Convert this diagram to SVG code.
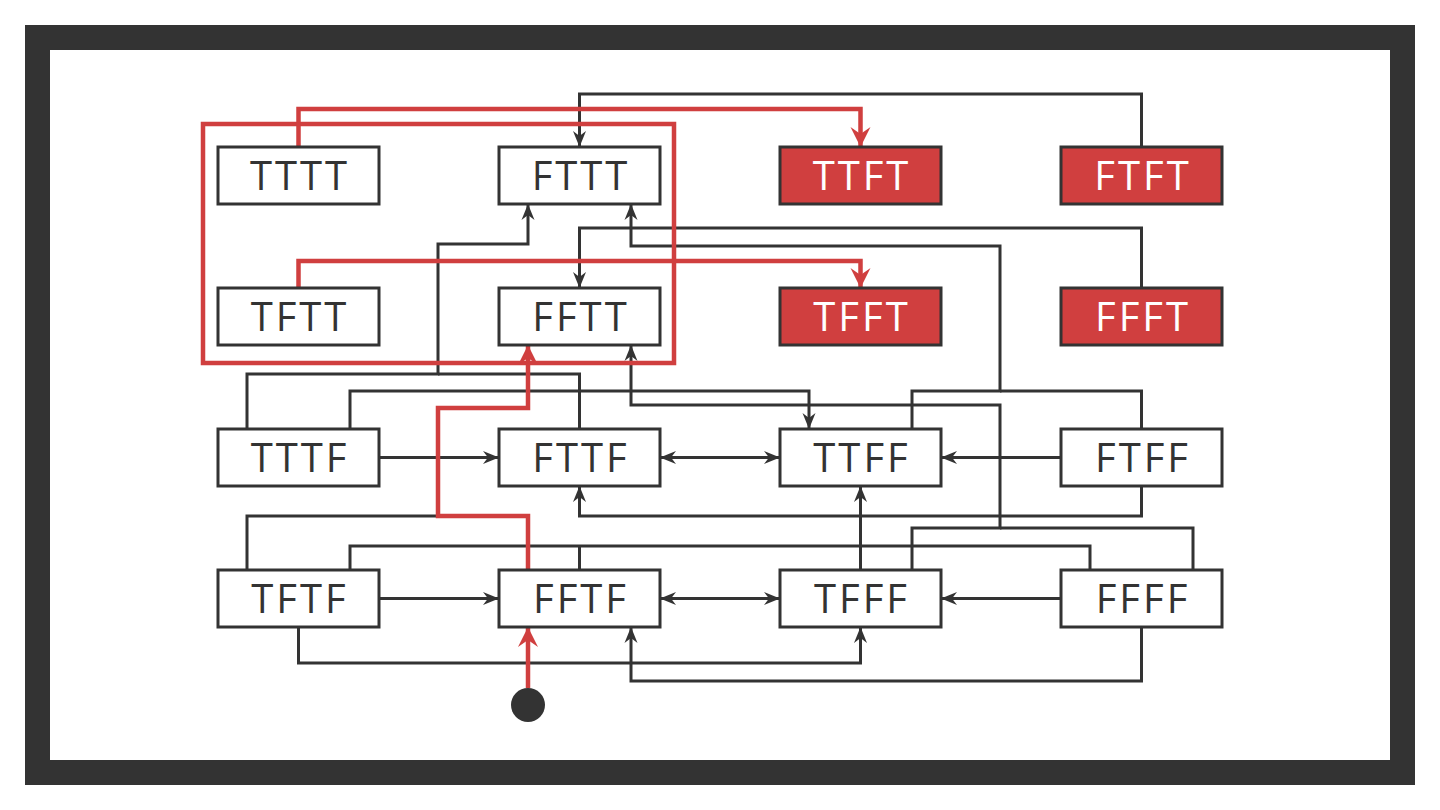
<svg xmlns="http://www.w3.org/2000/svg" width="1440" height="810" viewBox="0 0 1440 810">
<style>
.frame{fill:#333333}
.node rect{fill:#ffffff;stroke:#333333;stroke-width:3}
.node.red rect{fill:#d03f3f}
.node text{font-family:"Open Sans","Liberation Sans",sans-serif;font-size:40px;fill:#333333;text-anchor:middle;letter-spacing:3px}
.node.red text{fill:#ffffff}
.c{fill:none;stroke:#333333;stroke-width:3}
.r{fill:none;stroke:#d03f3f;stroke-width:4.5}
</style>
<defs>
<marker id="ad" markerUnits="userSpaceOnUse" viewBox="-20 -10 22 20" refX="0" refY="0" markerWidth="22" markerHeight="20" orient="auto-start-reverse">
<path d="M0,0 L-16,-6.5 L-11,0 L-16,6.5 Z" fill="#333333"/>
</marker>
<marker id="ar" markerUnits="userSpaceOnUse" viewBox="-24 -12 26 24" refX="0" refY="0" markerWidth="26" markerHeight="24" orient="auto">
<path d="M0,0 L-20,-10 L-13,0 L-20,10 Z" fill="#d03f3f"/>
</marker>
</defs>
<rect x="0" y="0" width="1440" height="810" fill="#ffffff"/>
<path class="frame" fill-rule="evenodd" d="M25,25 H1415 V785 H25 Z M50,50 V760 H1390 V50 Z"/>

<g id="connectors">
<path class="c" d="M1141.5,147 V94 H579.5 V147" marker-end="url(#ad)"/>
<path class="c" d="M1141.5,288 V228 H579.5 V288" marker-end="url(#ad)"/>
<path class="c" d="M912,429 V391 H1000 V246 H631 V204" marker-end="url(#ad)"/>
<path class="c" d="M1141.5,429 V391 H1000"/>
<path class="c" d="M912,570 V528 H1000 V405 H631 V345" marker-end="url(#ad)"/>
<path class="c" d="M1193,570 V528 H1000"/>
<path class="c" d="M247,429 V374 H438 V244 H528 V204" marker-end="url(#ad)"/>
<path class="c" d="M579.5,429 V374 H438"/>
<path class="c" d="M247,570 V516 H438"/>
<path class="c" d="M350,429 V391 H809 V429" marker-end="url(#ad)"/>
<path class="c" d="M350,570 V546 H1090 V570"/>
<path class="c" d="M579.5,570 V546"/>
<path class="c" d="M298.5,627 V663 H860.5 V627" marker-end="url(#ad)"/>
<path class="c" d="M1141.5,627 V681 H631 V627" marker-end="url(#ad)"/>
<path class="c" d="M1141.5,486 V516 H579.5 V486" marker-end="url(#ad)"/>
<path class="c" d="M860.5,570 V486" marker-end="url(#ad)"/>
<path class="c" d="M379,457.5 H499" marker-end="url(#ad)"/>
<path class="c" d="M660,457.5 H780" marker-start="url(#ad)" marker-end="url(#ad)"/>
<path class="c" d="M1061,457.5 H941" marker-end="url(#ad)"/>
<path class="c" d="M379,598.5 H499" marker-end="url(#ad)"/>
<path class="c" d="M660,598.5 H780" marker-start="url(#ad)" marker-end="url(#ad)"/>
<path class="c" d="M1061,598.5 H941" marker-end="url(#ad)"/>
<rect class="r" x="203" y="124" width="471" height="239"/>
<path class="r" d="M298.5,147 V109 H860.5 V147" marker-end="url(#ar)"/>
<path class="r" d="M298.5,288 V261 H860.5 V288" marker-end="url(#ar)"/>
<path class="r" d="M528,570 V516 H438 V408 H528 V345" marker-end="url(#ar)"/>
<path class="r" d="M528,688 V627" marker-end="url(#ar)"/>
</g>

<g id="start"><circle cx="528" cy="705" r="17" fill="#333333"/></g>

<g id="TTTT" class="node"><rect x="218" y="147" width="161" height="57"/><text x="300" y="190">TTTT</text></g>
<g id="FTTT" class="node"><rect x="499" y="147" width="161" height="57"/><text x="581" y="190">FTTT</text></g>
<g id="TTFT" class="node red"><rect x="780" y="147" width="161" height="57"/><text x="862" y="190">TTFT</text></g>
<g id="FTFT" class="node red"><rect x="1061" y="147" width="161" height="57"/><text x="1143" y="190">FTFT</text></g>

<g id="TFTT" class="node"><rect x="218" y="288" width="161" height="57"/><text x="300" y="331">TFTT</text></g>
<g id="FFTT" class="node"><rect x="499" y="288" width="161" height="57"/><text x="581" y="331">FFTT</text></g>
<g id="TFFT" class="node red"><rect x="780" y="288" width="161" height="57"/><text x="862" y="331">TFFT</text></g>
<g id="FFFT" class="node red"><rect x="1061" y="288" width="161" height="57"/><text x="1143" y="331">FFFT</text></g>

<g id="TTTF" class="node"><rect x="218" y="429" width="161" height="57"/><text x="300" y="472">TTTF</text></g>
<g id="FTTF" class="node"><rect x="499" y="429" width="161" height="57"/><text x="581" y="472">FTTF</text></g>
<g id="TTFF" class="node"><rect x="780" y="429" width="161" height="57"/><text x="862" y="472">TTFF</text></g>
<g id="FTFF" class="node"><rect x="1061" y="429" width="161" height="57"/><text x="1143" y="472">FTFF</text></g>

<g id="TFTF" class="node"><rect x="218" y="570" width="161" height="57"/><text x="300" y="613">TFTF</text></g>
<g id="FFTF" class="node"><rect x="499" y="570" width="161" height="57"/><text x="581" y="613">FFTF</text></g>
<g id="TFFF" class="node"><rect x="780" y="570" width="161" height="57"/><text x="862" y="613">TFFF</text></g>
<g id="FFFF" class="node"><rect x="1061" y="570" width="161" height="57"/><text x="1143" y="613">FFFF</text></g>
</svg>
